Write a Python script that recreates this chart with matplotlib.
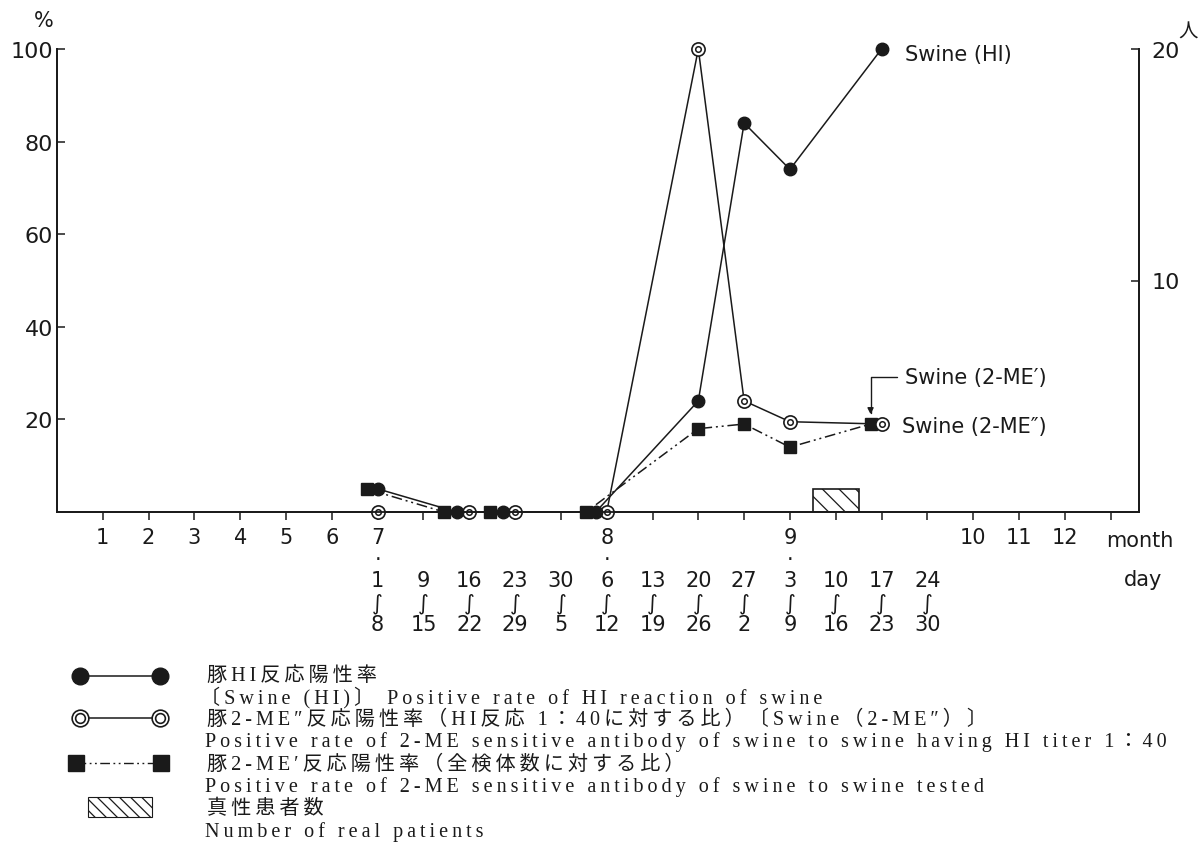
import matplotlib.pyplot as plt
from matplotlib.patches import Rectangle

# x scale: months 1-6, weekly slots from Jul 1 to Sep 30, then months 10-12
month_labels = ['1', '2', '3', '4', '5', '6', '7', '8', '9', '10', '11', '12']
month_slot = [1, 2, 3, 4, 5, 6, 7, 12, 16, 20, 21, 22]
week_from = ['1', '9', '16', '23', '30', '6', '13', '20', '27', '3', '10', '17', '24']
week_to = ['8', '15', '22', '29', '5', '12', '19', '26', '2', '9', '16', '23', '30']
week_slot = list(range(7, 20))
n_slots = 23

# sampled weeks and positive rates (%)
sample_slot = [7, 9, 10, 12, 14, 15, 16, 18]
hi_rate = [5, 0, 0, 0, 24, 84, 74, 100]          # Swine (HI)
me2_hi_rate = [0, 0, 0, 0, 100, 24, 19.5, 19]    # Swine (2-ME")
me2_all_rate = [5, 0, 0, 0, 18, 19, 14, 19]      # Swine (2-ME')

# real patients (right axis, persons)
patient_slot = [17]
patients = [1]

# small sideways nudges so overlapping markers stay visible
hi_nudge = [0, -0.27, -0.27, -0.24, 0, 0, 0, 0]
sq_nudge = [-0.24, -0.55, -0.55, -0.45, 0, 0, 0, -0.24]

ink = '#1a1a1a'
dashdotdot = (0, (7, 2.5, 1.3, 2.5, 1.3, 2.5))
plt.rcParams['hatch.linewidth'] = 0.9

W, H = 1202, 854
fig = plt.figure(figsize=(W / 100, H / 100), dpi=100)

# ---- legend block (pixel coordinates) ----
lax = fig.add_axes([0, 0, 1, 200 / H])
lax.set_xlim(0, W)
lax.set_ylim(H, H - 200)
lax.axis('off')

ax = fig.add_axes([57 / W, 341 / H, 1082 / W, 463 / H])
ax2 = ax.twinx()

hx = [s + d for s, d in zip(sample_slot, hi_nudge)]
sx = [s + d for s, d in zip(sample_slot, sq_nudge)]

ax.plot(sx, me2_all_rate, color=ink, lw=1.1, ls=dashdotdot, marker='s', ms=8,
        mfc=ink, mec=ink, clip_on=False, zorder=3)
ax.plot(sample_slot, me2_hi_rate, color=ink, lw=1.1, marker='o', ms=9.5,
        mfc='white', mec=ink, mew=1.2, clip_on=False, zorder=4)
ax.plot(sample_slot, me2_hi_rate, ls='none', marker='o', ms=4,
        mfc='white', mec=ink, mew=1.1, clip_on=False, zorder=5)
ax.plot(hx, hi_rate, color=ink, lw=1.1, marker='o', ms=9,
        mfc=ink, mec=ink, clip_on=False, zorder=6)

ax2.bar(patient_slot, patients, width=1, fill=False, edgecolor=ink, lw=1.2,
        hatch='\\\\')

ax.set_xlim(0, 23.62)
ax.set_ylim(0, 100)
ax2.set_ylim(0, 20)

ax.set_yticks([20, 40, 60, 80, 100])
ax.tick_params(axis='y', direction='in', length=6, width=1.1, pad=3,
               labelsize=16, colors=ink)
ax2.set_yticks([10, 20])
ax2.tick_params(axis='y', direction='in', length=6, width=1.1, pad=9,
                labelsize=16, colors=ink)

tick_text = []
for s in range(1, n_slots + 1):
    top = month_labels[month_slot.index(s)] if s in month_slot else ''
    if s in week_slot:
        k = week_slot.index(s)
        lines = [top, '·' if top else '', week_from[k], '∫', week_to[k]]
        tick_text.append('\n'.join(lines))
    else:
        tick_text.append(top)
ax.set_xticks(range(1, n_slots + 1))
ax.set_xticklabels(tick_text, linespacing=1.1)
ax.tick_params(axis='x', direction='out', length=6, width=1.1, pad=5,
               labelsize=15, colors=ink)

for a in (ax, ax2):
    a.spines['top'].set_visible(False)
    for sp in a.spines.values():
        sp.set_linewidth(1.3)
        sp.set_color(ink)

ax.text(18.52, 98.9, 'Swine (HI)', fontsize=15, ha='left', va='center', color=ink)
ax.text(18.45, 18.6, 'Swine (2-ME″)', fontsize=15, ha='left', va='center', color=ink)
ax.annotate('Swine (2-ME′)', xy=(18 + sq_nudge[-1], 19), xytext=(18.52, 29.2),
            fontsize=15, ha='left', va='center', color=ink,
            arrowprops=dict(arrowstyle='-|>', color=ink, lw=1.0,
                            connectionstyle='angle,angleA=0,angleB=90,rad=0',
                            relpos=(0, 0.5), shrinkA=4, shrinkB=7,
                            mutation_scale=9))

fig.text(44 / W, 1 - 21 / H, '%', fontsize=15, ha='center', va='center', color=ink)
fig.text(1188 / W, 1 - 32 / H, '人', fontsize=14, ha='center', va='center',
         color=ink, family=['Noto Sans CJK JP'])
fig.text(1140 / W, 1 - 541 / H, 'month', fontsize=15, ha='center', va='center', color=ink)
fig.text(1143 / W, 1 - 580 / H, 'day', fontsize=15, ha='center', va='center', color=ink)

# ---- legend ----
serif = ['Liberation Serif', 'DejaVu Serif', 'Noto Sans CJK JP']
gap = '\u2009'


def spaced(s):
    return gap.join(s)


lax.plot([80, 160], [677, 677], color=ink, lw=1.1, marker='o', ms=12, mfc=ink, mec=ink)
lax.plot([80, 160], [719, 719], color=ink, lw=1.1, marker='o', ms=12,
         mfc='white', mec=ink, mew=1.2)
lax.plot([80, 160], [719, 719], ls='none', marker='o', ms=7,
         mfc='white', mec=ink, mew=1.2)
lax.plot([76, 161], [764, 764], color=ink, lw=1.0, ls=dashdotdot, marker='s', ms=11,
         mfc=ink, mec=ink)
lax.add_patch(Rectangle((88, 798), 64, 20, fill=False, edgecolor=ink, lw=0.8,
                        hatch='\\\\\\'))

legend_lines = [
    (207, 676, '豚HI反応陽性率'),
    (200, 698, '〔Swine (HI)〕 Positive rate of HI reaction of swine'),
    (207, 720, '豚2-ME″反応陽性率（HI反応 1：40に対する比）〔Swine（2-ME″）〕'),
    (205, 742, 'Positive rate of 2-ME sensitive antibody of swine to swine having HI titer 1：40'),
    (207, 765, '豚2-ME′反応陽性率（全検体数に対する比）'),
    (205, 787, 'Positive rate of 2-ME sensitive antibody of swine to swine tested'),
    (207, 809, '真性患者数'),
    (205, 832, 'Number of real patients'),
]
for x, y, s in legend_lines:
    lax.text(x, y, spaced(s), fontsize=14.5, ha='left', va='center', color=ink,
             family=serif)

fig.savefig('out.png', dpi=100)
